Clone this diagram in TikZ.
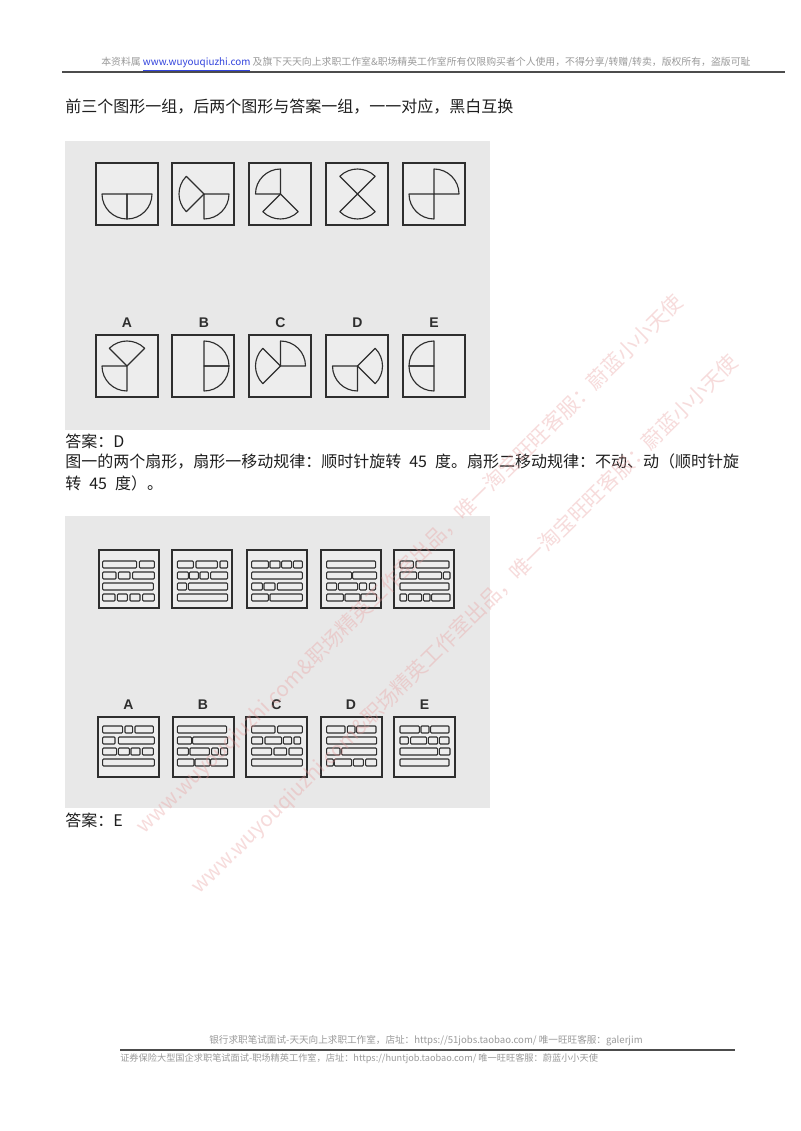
\documentclass[tikz,border=0pt]{standalone}
\usepackage{fontspec}
\usepackage{graphicx}
\newfontfamily\cjk{Noto Sans CJK SC}
\newfontfamily\lab{Liberation Sans}
\definecolor{panel}{HTML}{E8E8E8}
\definecolor{boxfill}{HTML}{EDEDED}
\definecolor{ink}{HTML}{2E2E2E}
\definecolor{hdrgray}{HTML}{9A9A9A}
\definecolor{linkblue}{HTML}{3344DD}
\definecolor{wm}{HTML}{E89A9A}
\definecolor{bodyink}{HTML}{1E1E1E}
\tikzset{
  panelbox/.style={fill=panel, draw=none},
  figbox/.style={draw=ink, fill=boxfill, line width=1.1pt},
  shp/.style={draw=ink, line width=0.85pt, line join=round},
  seg/.style={draw=ink, line width=0.8pt, rounded corners=0.7pt},
  bodytxt/.style={anchor=west, inner sep=0pt, text=bodyink, font=\cjk\fontsize{12}{14}\selectfont},
  lbl/.style={inner sep=0pt, font=\lab\bfseries\fontsize{10.5}{12}\selectfont, text=ink},
  hdr/.style={inner sep=0pt, text=hdrgray},
  wmtxt/.style={inner sep=0pt, text=wm, opacity=0.35, rotate=44.5}
}
\newcommand\sect[3]{\draw[shp] (#1) -- ++(#2:25) arc[start angle=#2, end angle=#3, radius=25] -- cycle;}
\newcommand\segrow[2]{\foreach \a/\b in {#2} {\draw[seg] ({90+\a/3},{-#1}) rectangle ({90+\b/3},{-#1-7});}}
\begin{document}
\begin{tikzpicture}[x=0.75pt,y=0.75pt]
\useasboundingbox[fill=white] (0,0) rectangle (800,-1131);

% header
\node[hdr, anchor=west, font=\cjk\fontsize{7.4}{9}\selectfont] (hdr) at (101,-64)
  {本资料属 \textcolor{linkblue}{\underline{www.wuyouqiuzhi.com}} 及旗下天天向上求职工作室\&职场精英工作室所有仅限购买者个人使用，不得分享/转赠/转卖，版权所有，盗版可耻};
\coordinate (hl1) at (62,-72);
\coordinate (hl2) at (785,-72);
\draw[line width=1.4pt, color=black!70] (hl1) -- (hl2);

% body text 1
\node[bodytxt] (t1) at (65,-107) {前三个图形一组，后两个图形与答案一组，一一对应，黑白互换};

% panel 1
\fill[panelbox] (65,-141) rectangle (490,-430);
\foreach \x in {96,172,249,326,403} {
  \draw[figbox] (\x,-163) rectangle ++(62,-62);
  \draw[figbox] (\x,-335) rectangle ++(62,-62);
}
% top row figures
\coordinate (c1) at (127,-194);
\coordinate (c2) at (204,-194);
\coordinate (c3) at (280.5,-194);
\coordinate (c4) at (357.5,-194);
\coordinate (c5) at (434,-194);
\sect{c1}{180}{270}\sect{c1}{270}{360}
\sect{c2}{270}{360}\sect{c2}{135}{225}
\sect{c3}{90}{180}\sect{c3}{225}{315}
\sect{c4}{45}{135}\sect{c4}{225}{315}
\sect{c5}{0}{90}\sect{c5}{180}{270}
% answer figures
\coordinate (a1) at (127,-366);
\coordinate (a2) at (204,-366);
\coordinate (a3) at (280.5,-366);
\coordinate (a4) at (357.5,-366);
\coordinate (a5) at (434,-366);
\sect{a1}{45}{135}\sect{a1}{180}{270}
\sect{a2}{-90}{0}\sect{a2}{0}{90}
\sect{a3}{0}{90}\sect{a3}{135}{225}
\sect{a4}{180}{270}\sect{a4}{-45}{45}
\sect{a5}{90}{180}\sect{a5}{180}{270}
\node[lbl] (lA1) at (127,-323) {A};
\node[lbl] (lB1) at (204,-323) {B};
\node[lbl] (lC1) at (280.5,-323) {C};
\node[lbl] (lD1) at (357.5,-323) {D};
\node[lbl] (lE1) at (434,-323) {E};

% answer 1 text
\node[bodytxt] (ans1) at (65,-441) {答案：D};
\node[bodytxt] (ex1) at (65,-462) {图一的两个扇形，扇形一移动规律：顺时针旋转\hspace{0.5em}45\hspace{0.5em}度。扇形二移动规律：不动、动（顺时针旋};
\node[bodytxt] (ex2) at (65,-483) {转\hspace{0.5em}45\hspace{0.5em}度）。};

% panel 2
\fill[panelbox] (65,-516) rectangle (490,-808);
\foreach \x in {99,172,247,321,394} {
  \draw[figbox] (\x,-550) rectangle ++(60,-58);
}
\foreach \x in {98,173,246,321,394} {
  \draw[figbox] (\x,-717) rectangle ++(61,-60);
}
% top row box 1
\segrow{561}{38/140,148/193}
\segrow{572}{38/78,85/120,128/193}
\segrow{583}{38/190}
\segrow{594}{38/75,82/112,120/150,158/193}
% box 2
\segrow{561}{262/310,318/382,390/413}
\segrow{572}{262/295,298/325,330/355,362/413}
\segrow{583}{262/290,295/413}
\segrow{594}{262/413}
% box 3
\segrow{561}{485/535,540/570,575/605,610/637}
\segrow{572}{485/637}
\segrow{583}{485/517,522/555,562/637}
\segrow{594}{485/535,540/637}
% box 4
\segrow{561}{710/857}
\segrow{572}{710/785,788/860}
\segrow{583}{710/740,745/803,808/830,838/857}
\segrow{594}{710/760,765/810,813/860}
% box 5
\segrow{561}{930/970,978/1077}
\segrow{572}{930/980,985/1055,1060/1080}
\segrow{583}{930/1077}
\segrow{594}{930/950,955/995,1000/1020,1025/1080}
% answers A
\segrow{726}{38/98,105/128,135/190}
\segrow{737}{38/75,85/193}
\segrow{748}{38/80,85/118,123/150,157/190}
\segrow{759}{38/193}
% B
\segrow{726}{262/410}
\segrow{737}{262/305,308/413}
\segrow{748}{262/295,300/358,365/385,392/413}
\segrow{759}{262/312,315/360,362/413}
% C
\segrow{726}{485/555,563/637}
\segrow{737}{485/518,525/575,580/605,612/632}
\segrow{748}{485/545,552/590,597/637}
\segrow{759}{485/637}
% D
\segrow{726}{710/765,772/795,800/858}
\segrow{737}{710/860}
\segrow{748}{710/750,755/860}
\segrow{759}{710/730,733/785,790/820,827/860}
% E
\segrow{726}{930/988,993/1017,1022/1077}
\segrow{737}{930/955,962/1010,1015/1043,1048/1077}
\segrow{748}{930/1043,1048/1080}
\segrow{759}{930/1077}
\node[lbl] (lA2) at (128.5,-705) {A};
\node[lbl] (lB2) at (203,-705) {B};
\node[lbl] (lC2) at (276.5,-705) {C};
\node[lbl] (lD2) at (351,-705) {D};
\node[lbl] (lE2) at (424.5,-705) {E};

\node[bodytxt] (ans2) at (65,-820) {答案：E};

% footer
\node[hdr, font=\cjk\fontsize{7.2}{9}\selectfont] (ft1) at (426,-1041)
  {银行求职笔试面试-天天向上求职工作室，店址：https://51jobs.taobao.com/ 唯一旺旺客服：galerjim};
\coordinate (fl1) at (120,-1050);
\coordinate (fl2) at (735,-1050);
\draw[line width=1.1pt, color=black!70] (fl1) -- (fl2);
\node[hdr, anchor=west, font=\cjk\fontsize{6.9}{9}\selectfont] (ft2) at (120,-1059)
  {证券保险大型国企求职笔试面试-职场精英工作室，店址：https://huntjob.taobao.com/ 唯一旺旺客服：蔚蓝小小天使};

% watermarks
\node[wmtxt] (wm1) at (410,-565) {\resizebox{568pt}{!}{\cjk www.wuyouqiuzhi.com\&职场精英工作室出品，唯一淘宝旺旺客服：蔚蓝小小天使}};
\node[wmtxt] (wm2) at (465,-625) {\resizebox{568pt}{!}{\cjk www.wuyouqiuzhi.com\&职场精英工作室出品，唯一淘宝旺旺客服：蔚蓝小小天使}};
\end{tikzpicture}
\end{document}
